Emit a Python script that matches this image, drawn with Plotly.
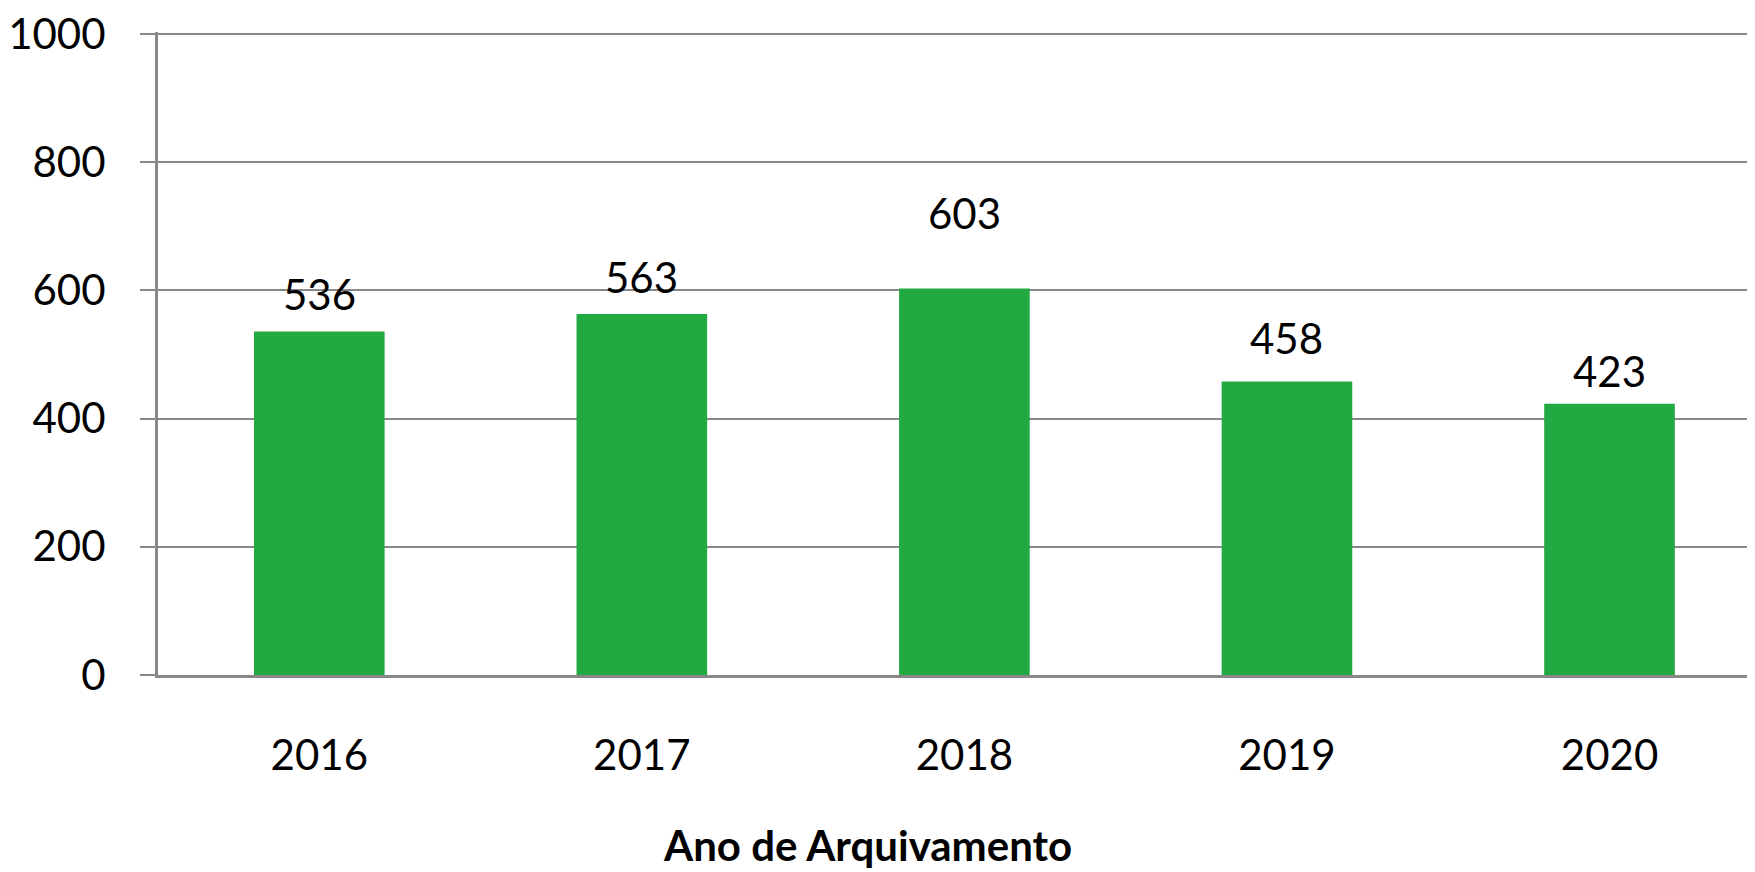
import plotly.graph_objects as go

years = ["2016", "2017", "2018", "2019", "2020"]
values = [536, 563, 603, 458, 423]
y_ticks = [0, 200, 400, 600, 800, 1000]
x_title = "Ano de Arquivamento"

# style: per-label vertical offset (px) above the bar top
label_shift = [10, 10, 48, 16, 6]

FONT = "Lato"
GREEN = "#22A942"
GRID = "#888888"

# page body has an 8px margin; compensate so the chart lands on the target pixels
W, H = 1755 - 8, 872 - 8
L, T, B = 157 - 8, 29 - 8, 197
Y_MAX = 1003  # a little headroom so the 1000 gridline is drawn

fig = go.Figure()
fig.add_trace(go.Bar(
    x=years, y=values, marker=dict(color=GREEN, line=dict(width=0)),
    width=0.405, hoverinfo="x+y",
))

for i, (v, s) in enumerate(zip(values, label_shift)):
    fig.add_annotation(x=i, y=v, xref="x", yref="y", text=str(v), showarrow=False,
                       yanchor="bottom", yshift=s,
                       font=dict(family=FONT, size=42, color="black"))

fig.update_layout(
    width=W, height=H,
    margin=dict(l=L, r=0, t=T, b=B, pad=0),
    paper_bgcolor="white", plot_bgcolor="white",
    showlegend=False,
    font=dict(family=FONT, size=42, color="black"),
)
fig.update_yaxes(
    range=[0, Y_MAX], tickvals=y_ticks, showgrid=True, gridcolor=GRID, gridwidth=2,
    showline=True, linecolor=GRID, linewidth=3,
    ticks="outside", ticklen=15, tickcolor=GRID, tickwidth=2,
    ticklabelstandoff=26, zeroline=False, ticklabeloverflow="allow",
    tickfont=dict(family=FONT, size=42, color="black"),
)
fig.update_xaxes(
    type="category", range=[-0.5, 4.451],
    showline=True, linecolor=GRID, linewidth=3, ticks="",
    ticklabelstandoff=42,
    tickfont=dict(family=FONT, size=42, color="black"),
)
plot_h = H - T - B
fig.add_annotation(x=(867 - 8 - L) / (W - L), y=-(846 - 8 - (H - B)) / plot_h,
                   xref="paper", yref="paper", yanchor="middle", xanchor="center",
                   showarrow=False, text="<b>" + x_title + "</b>",
                   font=dict(family=FONT, size=42, color="black"))

fig.write_html("out.html")
